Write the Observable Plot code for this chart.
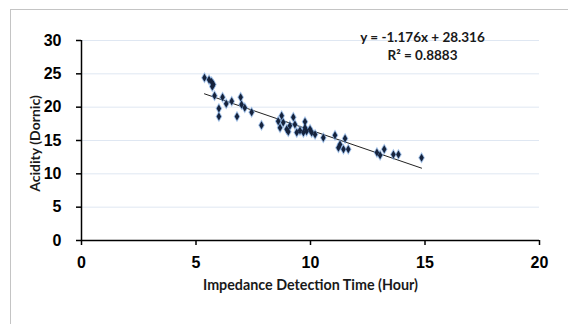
<!DOCTYPE html>
<html>
<head>
<meta charset="utf-8">
<script src="https://cdn.jsdelivr.net/npm/d3@7"></script>
<script src="https://cdn.jsdelivr.net/npm/@observablehq/plot@0.6"></script>
<style>
  html, body { margin: 0; padding: 0; background: #fff; }
  #wrap { position: relative; width: 568px; height: 324px; overflow: hidden; }
  #frame { position: absolute; left: 10px; top: 9px; width: 700px; height: 500px; border: 1px solid #c4c4c4; box-sizing: border-box; }
  #chart { position: absolute; left: 0; top: 0; }
</style>
</head>
<body>
<div id="wrap"><div id="frame"></div><div id="chart"></div></div>
<script>
// Impedance detection time (hour)
const detectionTime = [5.37, 5.57, 5.68, 5.76, 5.71, 5.81, 6.16, 6.0, 6.0, 6.32, 6.56, 6.95, 6.99, 7.13, 6.79, 7.43,
  7.86, 8.59, 8.74, 8.81, 8.67, 8.96, 9.10, 9.25, 9.32, 9.03, 9.40, 9.54, 9.69, 9.76, 9.76, 9.83, 9.98, 10.05, 10.20,
  10.56, 11.07, 11.29, 11.22, 11.44, 11.51, 11.65, 12.90, 13.04, 13.22, 13.62, 13.84, 14.85];
// Acidity (Dornic)
const acidity = [24.4, 24.1, 23.8, 23.4, 23.1, 21.7, 21.5, 19.8, 18.6, 20.5, 20.9, 21.5, 20.4, 19.9, 18.6, 19.25,
  17.3, 17.9, 18.7, 17.7, 16.9, 16.7, 17.2, 18.5, 17.4, 16.3, 16.2, 16.5, 16.2, 17.8, 16.9, 16.4, 16.7, 16.2, 15.9,
  15.4, 15.8, 14.4, 13.9, 13.7, 15.3, 13.7, 13.2, 12.8, 13.7, 12.9, 12.9, 12.4];
const slope = -1.176;
const intercept = 28.316;
const rSquared = 0.8883;
const xTicks = [0, 5, 10, 15, 20];
const yTicks = [0, 5, 10, 15, 20, 25, 30];

const points = detectionTime.map((x, i) => ({x, y: acidity[i]}));
const [xmin, xmax] = d3.extent(detectionTime);
const trend = [xmin, xmax].map(x => ({x, y: slope * x + intercept}));
const eqText = `y = ${slope}x + ${intercept}`;
const r2Text = `R² = ${rSquared}`;

const labelFont = {fontFamily: "Lato, sans-serif", fontWeight: "bold", fill: "#1a1a1a"};

const plot = Plot.plot({
  width: 568,
  height: 324,
  marginLeft: 81,
  marginRight: 29,
  marginTop: 40,
  marginBottom: 84,
  style: {background: "transparent", fontFamily: "Liberation Sans, Arial, sans-serif"},
  x: {domain: [0, 20], ticks: xTicks},
  y: {domain: [0, 30], ticks: yTicks},
  marks: [
    Plot.gridY(yTicks.filter(d => d > 0), {stroke: "#dfe7f2", strokeOpacity: 1, strokeWidth: 1}),
    Plot.axisY({ticks: yTicks, tickSize: 5, tickPadding: 15, fontSize: 16, fontWeight: "bold", stroke: "#000", strokeWidth: 1.5, label: null, fill: "#000"}),
    Plot.axisX({ticks: xTicks, tickSize: 5, tickPadding: 11, fontSize: 16, fontWeight: "bold", stroke: "#000", strokeWidth: 1.5, label: null, fill: "#000"}),
    Plot.ruleX([0], {stroke: "#000", strokeWidth: 1.5}),
    Plot.ruleY([0], {stroke: "#000", strokeWidth: 1.5}),
    Plot.line(trend, {x: "x", y: "y", stroke: "#222", strokeWidth: 1}),
    Plot.dot(points, {x: "x", y: "y", symbol: "diamond", r: 3.5, fill: "#7aa6de", fillOpacity: 0.7, stroke: "none"}),
    Plot.dot(points, {x: "x", y: "y", symbol: "diamond", r: 2.4, fill: "#16233d", stroke: "none"}),
    Plot.text([eqText], {frameAnchor: "top-right", dx: -117, dy: -8, textAnchor: "middle", fontSize: 13.5, ...labelFont}),
    Plot.text([r2Text], {frameAnchor: "top-right", dx: -117, dy: 10, textAnchor: "middle", fontSize: 13.5, ...labelFont}),
    Plot.text(["Impedance Detection Time (Hour)"], {frameAnchor: "bottom", dy: 49, fontSize: 14.3, ...labelFont}),
    Plot.text(["Acidity (Dornic)"], {frameAnchor: "left", textAnchor: "middle", dx: -46, dy: 3, rotate: -90, fontSize: 14, ...labelFont})
  ]
});
document.getElementById("chart").appendChild(plot);
</script>
</body>
</html>
